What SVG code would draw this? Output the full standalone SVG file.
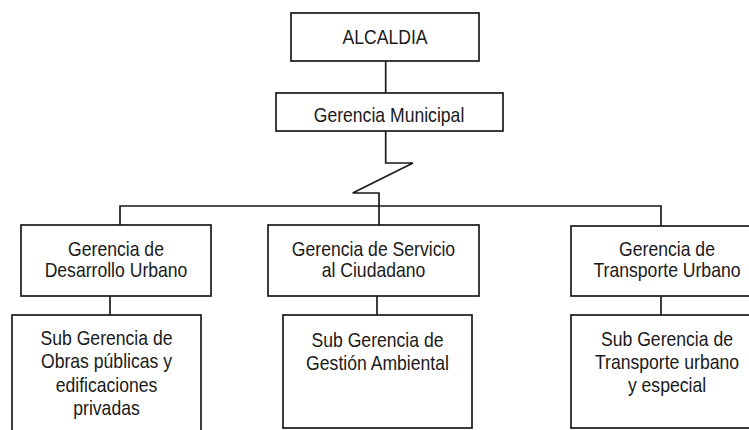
<svg xmlns="http://www.w3.org/2000/svg" width="749" height="430" viewBox="0 0 749 430">
<style>
.box{fill:#fff;stroke:#1a1a1a;stroke-width:1.7}
.ln{fill:none;stroke:#1a1a1a;stroke-width:1.7}
text{font-family:"Liberation Sans",Arial,sans-serif;font-size:20px;fill:#1a1a1a;text-anchor:middle}
</style>
<rect width="749" height="430" fill="#fff"/>
<g id="connectors">
<polyline class="ln" points="385.7,61 385.7,93"/>
<polyline class="ln" points="385.7,131 385.7,163 413,163 352.7,193 379,193 379,225"/>
<polyline class="ln" points="120,225 120,206 661,206 661,226"/>
<polyline class="ln" points="110,296 110,315"/>
<polyline class="ln" points="377,296 377,315"/>
<polyline class="ln" points="661,296 661,315"/>
</g>
<g id="alcaldia">
<rect class="box" x="291" y="13" width="188" height="48"/>
<text transform="matrix(0.88 0 0 1 385 44)">ALCALDIA</text>
</g>
<g id="gerencia-municipal">
<rect class="box" x="276" y="93" width="227" height="38"/>
<text transform="matrix(0.88 0 0 1 389 122)">Gerencia Municipal</text>
</g>
<g id="gerencia-desarrollo-urbano">
<rect class="box" x="21" y="225" width="190" height="71"/>
<text transform="matrix(0.88 0 0 1 116 255.5)">Gerencia de</text>
<text transform="matrix(0.88 0 0 1 116 276.5)">Desarrollo Urbano</text>
</g>
<g id="gerencia-servicio-ciudadano">
<rect class="box" x="268" y="225" width="211" height="71"/>
<text transform="matrix(0.88 0 0 1 373.5 255.5)">Gerencia de Servicio</text>
<text transform="matrix(0.88 0 0 1 373.5 276.5)">al Ciudadano</text>
</g>
<g id="gerencia-transporte-urbano">
<rect class="box" x="571" y="226" width="190" height="70"/>
<text transform="matrix(0.88 0 0 1 667 255.5)">Gerencia de</text>
<text transform="matrix(0.88 0 0 1 667 276.5)">Transporte Urbano</text>
</g>
<g id="sub-obras-publicas">
<rect class="box" x="12" y="315" width="189" height="125"/>
<text transform="matrix(0.88 0 0 1 106.5 345)">Sub Gerencia de</text>
<text transform="matrix(0.88 0 0 1 106.5 368)">Obras públicas y</text>
<text transform="matrix(0.88 0 0 1 106.5 391.5)">edificaciones</text>
<text transform="matrix(0.88 0 0 1 106.5 414.5)">privadas</text>
</g>
<g id="sub-gestion-ambiental">
<rect class="box" x="283" y="315" width="189" height="113"/>
<text transform="matrix(0.88 0 0 1 377.5 346.5)">Sub Gerencia de</text>
<text transform="matrix(0.88 0 0 1 377.5 369.5)">Gestión Ambiental</text>
</g>
<g id="sub-transporte-especial">
<rect class="box" x="571" y="315" width="190" height="113"/>
<text transform="matrix(0.88 0 0 1 667 346)">Sub Gerencia de</text>
<text transform="matrix(0.88 0 0 1 667 369)">Transporte urbano</text>
<text transform="matrix(0.88 0 0 1 667 392)">y especial</text>
</g>
</svg>
